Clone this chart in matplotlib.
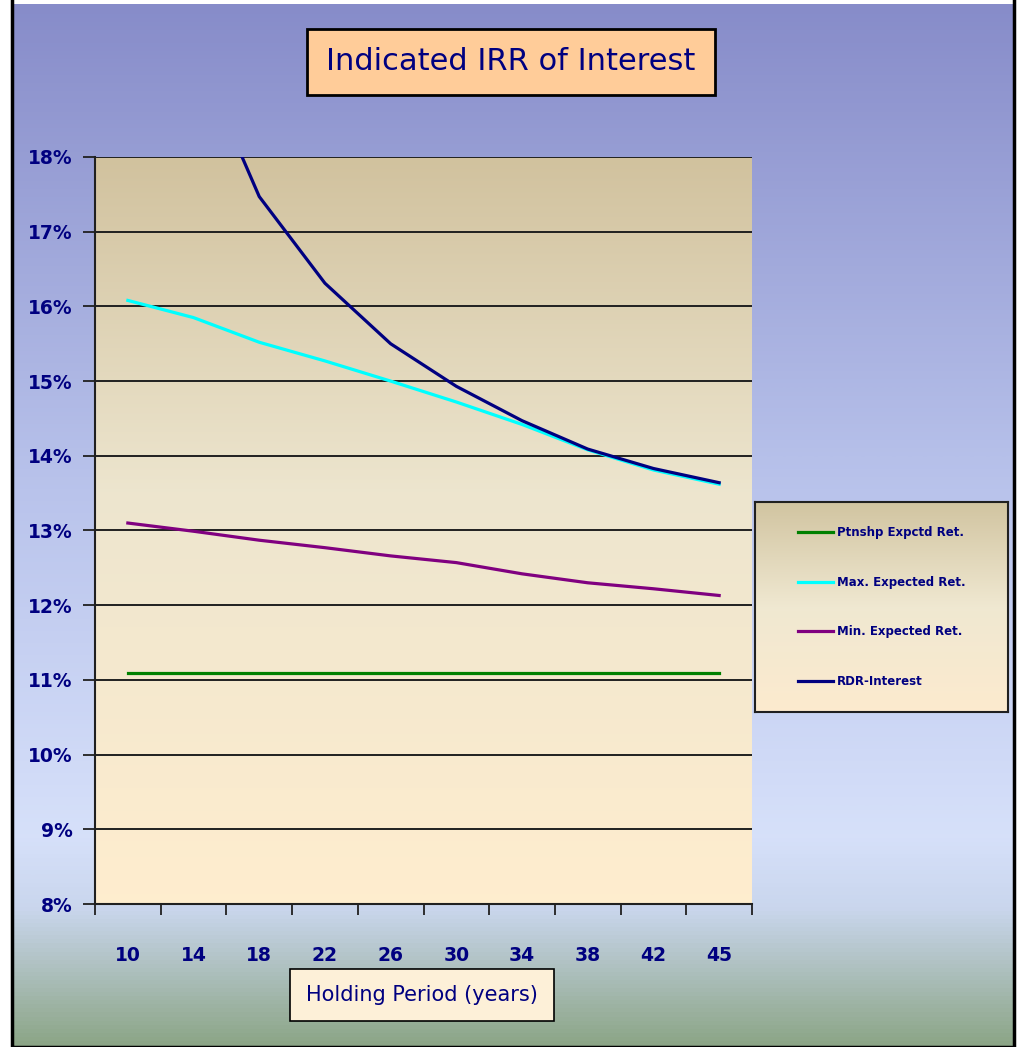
import numpy as np
import matplotlib.pyplot as plt
from matplotlib.lines import Line2D
from matplotlib.colors import LinearSegmentedColormap
from matplotlib.patches import Rectangle

# ---- data -------------------------------------------------
periods = ["10", "14", "18", "22", "26", "30", "34", "38", "42", "45"]
ptnshp_ret = [11.09, 11.09, 11.09, 11.09, 11.09, 11.09, 11.09, 11.09, 11.09, 11.09]
max_ret = [16.08, 15.85, 15.52, 15.27, 15.00, 14.72, 14.42, 14.08, 13.81, 13.62]
min_ret = [13.10, 12.99, 12.87, 12.77, 12.66, 12.57, 12.42, 12.30, 12.22, 12.13]
rdr_interest = [22.5, 19.5, 17.47, 16.31, 15.50, 14.93, 14.47, 14.09, 13.83, 13.64]

series_names = ["Ptnshp Expctd Ret.", "Max. Expected Ret.", "Min. Expected Ret.", "RDR-Interest"]
series_colors = ["#008000", "#00FFFF", "#800080", "#000080"]

NAVY = "#000080"

W, H = 1018, 1047
fig = plt.figure(figsize=(W / 100, H / 100), dpi=100)
fig.patch.set_facecolor("white")


def vgrad(ax, stops, zorder=0):
    cmap = LinearSegmentedColormap.from_list("g", stops)
    g = np.linspace(0, 1, 256).reshape(-1, 1)
    ax.imshow(g, aspect="auto", cmap=cmap, extent=[0, 1, 0, 1], origin="upper",
              transform=ax.transAxes, zorder=zorder, interpolation="bilinear")


# ---- chart area background ----------------------------------
bg = fig.add_axes([12 / W, 0, 1002 / W, 1 - 4 / H])
bg.set_axis_off()
vgrad(bg, [(0.0, (0.53, 0.55, 0.79)),
           (0.45, (0.72, 0.76, 0.92)),
           (0.80, (0.84, 0.88, 0.98)),
           (0.87, (0.79, 0.84, 0.93)),
           (1.0, (0.55, 0.65, 0.53))])
bg.set_xlim(0, 1)
bg.set_ylim(0, 1)
bg.add_patch(Rectangle((0, 0), 1, 1.2, transform=bg.transAxes, fill=False,
                       edgecolor="black", lw=2.5, clip_on=False))

# ---- plot area ----------------------------------------------
ax = fig.add_axes([95 / W, 1 - 904 / H, 657 / W, 747 / H])
vgrad(ax, [(0.0, (0.82, 0.76, 0.62)),
           (0.45, (0.93, 0.90, 0.81)),
           (1.0, (1.0, 0.93, 0.81))], zorder=-5)

x = np.arange(len(periods))
for vals, name, col in zip([ptnshp_ret, max_ret, min_ret, rdr_interest],
                           series_names, series_colors):
    ax.plot(x, vals, color=col, lw=2.3, label=name, zorder=3)

ax.set_xlim(-0.5, len(periods) - 0.5)
ax.set_ylim(8, 18)
ax.set_yticks(np.arange(8, 19, 1))
ax.set_yticklabels([f"{v}%" for v in range(8, 19)], color=NAVY,
                   fontsize=13.5, fontweight="bold")
ax.yaxis.grid(True, color="#202020", lw=1.4, zorder=1)
ax.set_axisbelow(False)

ax.set_xticks(x)
ax.set_xticklabels(periods, color=NAVY, fontsize=13.5, fontweight="bold")
ax.set_xticks(np.arange(-0.5, len(periods)), minor=True)
ax.tick_params(axis="x", which="major", length=0, pad=30)
ax.tick_params(axis="x", which="minor", length=8, width=1.3, color="#202020", direction="out")
ax.tick_params(axis="y", length=9, width=1.3, color="#202020", pad=7)

for s in ["top", "right"]:
    ax.spines[s].set_visible(False)
for s in ["left", "bottom"]:
    ax.spines[s].set_color("#202020")
    ax.spines[s].set_linewidth(1.5)

# ---- title ---------------------------------------------------
fig.text(511 / W, 1 - 62 / H, "Indicated IRR of Interest", ha="center", va="center",
         fontsize=22, color=NAVY,
         bbox=dict(boxstyle="square,pad=0.62", fc="#FFCC99", ec="black", lw=2))

# ---- axis title ----------------------------------------------
fig.text(422 / W, 1 - 995 / H, "Holding Period (years)", ha="center", va="center",
         fontsize=15, color=NAVY,
         bbox=dict(boxstyle="square,pad=0.75", fc="#FDF0D8", ec="black", lw=1.2))

# ---- legend ----------------------------------------------------
lax = fig.add_axes([755 / W, 1 - 712 / H, 253 / W, 210 / H])
lax.set_xticks([])
lax.set_yticks([])
vgrad(lax, [(0.0, (0.82, 0.77, 0.63)),
            (0.5, (0.94, 0.91, 0.82)),
            (1.0, (0.99, 0.92, 0.81))])
for s in lax.spines.values():
    s.set_color("#202020")
    s.set_linewidth(1.5)
handles = [Line2D([0], [0], color=c, lw=2.3) for c in series_colors]
leg = lax.legend(handles, series_names, loc="center", frameon=False,
                 prop={"size": 8.5, "weight": "bold"}, labelcolor=NAVY,
                 labelspacing=3.1, handlelength=3.0, handletextpad=0.3)

fig.savefig("out.png", dpi=100)
